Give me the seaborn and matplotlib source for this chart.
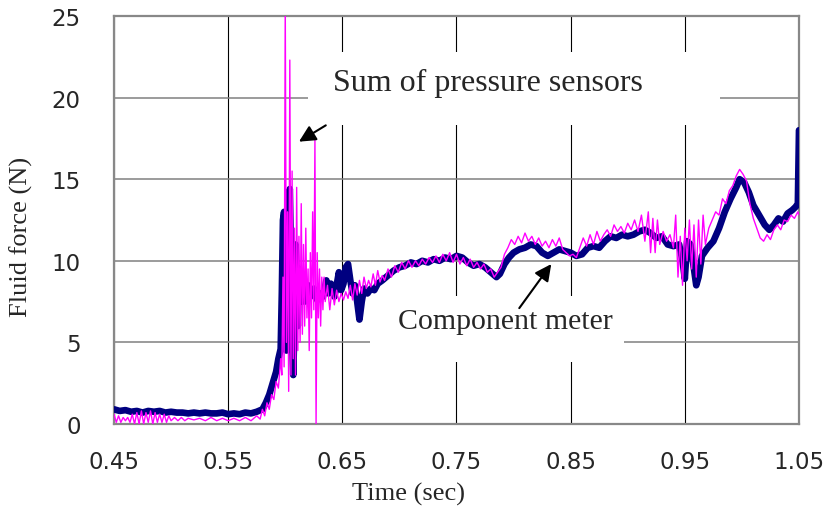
import matplotlib
matplotlib.use("Agg")
import matplotlib.pyplot as plt
import seaborn as sns
import pandas as pd
from matplotlib.patches import Rectangle

# ---- data ----
meter_t = [0.450, 0.455, 0.460, 0.465, 0.470, 0.475, 0.480, 0.485, 0.490, 0.495,
           0.500, 0.505, 0.510, 0.515, 0.520, 0.525, 0.530, 0.535, 0.540, 0.545,
           0.550, 0.555, 0.560, 0.565, 0.570, 0.575, 0.580, 0.583, 0.586, 0.589,
           0.592, 0.594, 0.596, 0.597, 0.598, 0.599, 0.600, 0.601, 0.602, 0.603,
           0.604, 0.605, 0.606, 0.607, 0.608, 0.609, 0.610, 0.611, 0.612, 0.613,
           0.615, 0.617, 0.620, 0.622, 0.625, 0.628, 0.630, 0.633, 0.636, 0.638,
           0.640, 0.643, 0.645, 0.647, 0.649, 0.651, 0.653, 0.655, 0.657, 0.659,
           0.661, 0.663, 0.665, 0.667, 0.669, 0.672, 0.675, 0.678, 0.681, 0.685,
           0.690, 0.695, 0.700, 0.705, 0.710, 0.715, 0.720, 0.725, 0.730, 0.735,
           0.740, 0.745, 0.750, 0.755, 0.760, 0.765, 0.770, 0.775, 0.780, 0.785,
           0.788, 0.792, 0.796, 0.800, 0.805, 0.810, 0.815, 0.820, 0.825, 0.830,
           0.835, 0.840, 0.845, 0.850, 0.855, 0.860, 0.865, 0.870, 0.875, 0.880,
           0.885, 0.890, 0.895, 0.900, 0.905, 0.910, 0.915, 0.920, 0.925, 0.930,
           0.935, 0.940, 0.945, 0.948, 0.950, 0.952, 0.955, 0.958, 0.960, 0.962,
           0.965, 0.970, 0.975, 0.980, 0.985, 0.990, 0.995, 0.998, 1.002, 1.006,
           1.010, 1.015, 1.020, 1.024, 1.028, 1.032, 1.036, 1.040, 1.044, 1.047,
           1.049, 1.050]
meter_f = [0.9, 0.8, 0.85, 0.75, 0.8, 0.7, 0.8, 0.75, 0.8, 0.7,
           0.75, 0.7, 0.7, 0.65, 0.7, 0.65, 0.7, 0.65, 0.65, 0.7,
           0.6, 0.65, 0.6, 0.7, 0.65, 0.75, 0.9, 1.3, 1.8, 2.5,
           3.2, 4.0, 4.6, 8.0, 12.5, 13.0, 7.0, 4.5, 9.0, 14.0,
           14.4, 10.0, 5.0, 3.0, 6.0, 11.0, 9.0, 6.0, 9.5, 7.5,
           8.8, 7.5, 8.5, 7.8, 8.3, 7.6, 8.0, 7.8, 8.8, 8.0,
           8.6, 7.8, 8.5, 9.3, 8.2, 8.6, 9.6, 9.8, 8.8, 8.0,
           8.5, 7.5, 6.4, 7.5, 8.3, 8.0, 8.3, 8.2, 8.6, 8.8,
           9.1, 9.4, 9.6, 9.7, 9.9, 9.8, 10.0, 9.9, 10.1, 10.0,
           10.2, 10.1, 10.3, 10.2, 9.9, 9.7, 9.8, 9.6, 9.3, 9.0,
           9.2, 9.8, 10.2, 10.5, 10.7, 10.8, 11.0, 10.9, 10.5, 10.3,
           10.5, 10.7, 10.6, 10.5, 10.3, 10.4, 10.8, 10.9, 10.8, 11.2,
           11.5, 11.4, 11.6, 11.5, 11.6, 11.8, 11.9, 11.7, 11.4, 11.5,
           11.0, 10.9, 11.0, 10.0, 8.9, 11.2, 11.0, 9.5, 8.5, 9.0,
           10.3, 10.8, 11.2, 12.0, 13.0, 13.8, 14.5, 15.0, 14.8, 14.2,
           13.4, 12.8, 12.2, 11.9, 12.2, 12.6, 12.4, 12.9, 13.1, 13.3,
           13.5, 18.0]

sensor_t = [0.450, 0.452, 0.454, 0.456, 0.458, 0.460, 0.462, 0.464, 0.466, 0.468,
            0.470, 0.472, 0.474, 0.476, 0.478, 0.480, 0.482, 0.484, 0.486, 0.488,
            0.490, 0.492, 0.494, 0.496, 0.498, 0.500, 0.503, 0.506, 0.509, 0.512,
            0.515, 0.520, 0.525, 0.530, 0.535, 0.540, 0.545, 0.550, 0.555, 0.560,
            0.565, 0.570, 0.575, 0.578,
            0.580, 0.582, 0.584, 0.586,
            0.588, 0.590, 0.592, 0.594, 0.596, 0.597, 0.598, 0.599, 0.600, 0.601,
            0.602, 0.603, 0.604, 0.605, 0.606, 0.607, 0.608, 0.609, 0.610, 0.611,
            0.612, 0.613, 0.614, 0.615, 0.616, 0.617, 0.618, 0.619, 0.620, 0.621,
            0.622, 0.623, 0.624, 0.625, 0.626, 0.627, 0.628, 0.629, 0.630, 0.631,
            0.632, 0.633, 0.634, 0.635, 0.637, 0.639, 0.641, 0.643, 0.645, 0.647,
            0.649, 0.651, 0.653, 0.655, 0.657, 0.659, 0.661, 0.663, 0.665, 0.667,
            0.669, 0.671, 0.673, 0.675, 0.677, 0.679, 0.681, 0.683, 0.685, 0.687,
            0.690, 0.693, 0.696, 0.699, 0.702, 0.705, 0.708, 0.711, 0.714, 0.717,
            0.720, 0.723, 0.726, 0.729, 0.732, 0.735, 0.738, 0.741, 0.744, 0.747,
            0.750, 0.753, 0.756, 0.759, 0.762, 0.765, 0.768, 0.771, 0.774, 0.777,
            0.780, 0.783, 0.786, 0.789, 0.792, 0.795, 0.798, 0.801, 0.804, 0.807,
            0.810, 0.813, 0.816, 0.819, 0.822, 0.825, 0.828, 0.831, 0.834, 0.837,
            0.840, 0.843, 0.846, 0.849, 0.852, 0.855, 0.858, 0.861, 0.864, 0.867,
            0.870, 0.873, 0.876, 0.879, 0.882, 0.885, 0.888, 0.891, 0.894, 0.897,
            0.900, 0.903, 0.906, 0.909, 0.912, 0.915, 0.918, 0.920, 0.922, 0.924,
            0.926, 0.928, 0.931, 0.934, 0.937, 0.940, 0.942, 0.944, 0.946, 0.948,
            0.950, 0.952, 0.954, 0.956, 0.958, 0.960, 0.962, 0.964, 0.966, 0.968,
            0.971, 0.974, 0.977, 0.980, 0.983, 0.986, 0.989, 0.992, 0.995, 0.998,
            1.001, 1.004, 1.007, 1.010, 1.013, 1.016, 1.019, 1.022, 1.025, 1.028,
            1.031, 1.034, 1.037, 1.040, 1.043, 1.046, 1.049, 1.050]
sensor_f = [0.6, 0.1, 0.5, 0.1, 0.4, 0.2, 0.4, 0.1, 0.6, 0.0,
            0.7, 0.0, 0.8, 0.0, 0.7, 0.1, 0.8, 0.0, 0.7, 0.1,
            0.6, 0.1, 0.6, 0.1, 0.5, 0.2, 0.4, 0.2, 0.4, 0.2,
            0.35, 0.25, 0.35, 0.2, 0.4, 0.2, 0.35, 0.2, 0.35, 0.2,
            0.4, 0.2, 0.5, 0.3,
            0.9, 0.5, 1.3, 0.9,
            1.8, 1.5, 2.6, 2.2, 4.0, 3.0, 9.0, 3.5, 26.0, 5.0,
            13.0, 2.0, 22.3, 3.0, 15.5, 4.0, 12.0, 3.0, 14.5, 4.5,
            11.5, 5.0, 13.5, 5.5, 11.0, 6.0, 12.0, 6.5, 9.5, 4.5,
            10.5, 6.5, 13.0, 7.0, 17.4, 0.0, 10.5, 6.5, 9.5, 6.0,
            9.0, 7.0, 9.0, 7.5, 8.5, 7.0, 8.3, 7.3, 8.2, 7.5,
            8.0, 7.6, 8.1, 7.7, 8.5, 7.6, 8.6, 7.9, 8.8, 8.0,
            9.0, 8.3, 8.8, 8.4, 9.2, 8.5, 9.4, 8.7, 9.1, 8.8,
            9.5, 9.0, 9.7, 9.3, 9.9, 9.5, 10.0, 9.6, 10.0, 9.7,
            10.1, 9.8, 10.2, 9.9, 10.3, 9.9, 10.4, 10.0, 10.5, 9.9,
            10.4, 9.8, 10.2, 9.7, 10.1, 9.6, 9.9, 9.5, 9.8, 9.3,
            9.5, 9.0, 9.3, 9.6, 10.4, 10.8, 11.3, 11.0, 11.5, 11.1,
            11.7, 11.2, 11.5, 11.0, 11.4, 10.9, 11.2, 10.8, 11.3, 10.9,
            11.4, 10.7, 10.5, 10.3, 10.4, 10.2, 10.8, 11.4, 10.9, 11.6,
            11.0, 11.8, 11.2, 11.6, 11.9, 11.5, 12.2, 11.8, 12.1, 11.7,
            12.3, 11.9, 12.5, 11.8, 12.8, 11.2, 13.0, 10.5, 12.6, 10.5,
            12.5, 11.0, 11.8, 11.2, 11.6, 10.8, 12.8, 9.0, 11.5, 8.5,
            12.0, 10.0, 12.5, 9.5, 12.2, 9.0, 12.5, 9.8, 12.8, 11.0,
            12.0, 12.5, 13.0, 12.8, 13.8, 13.5, 14.3, 14.6, 15.2, 15.6,
            15.3, 14.9, 13.5, 12.6, 12.0, 11.4, 11.2, 11.6, 11.3, 11.9,
            12.2, 11.9, 12.5, 12.4, 12.8, 12.6, 13.0, 12.8]

x_ticks = [0.45, 0.55, 0.65, 0.75, 0.85, 0.95, 1.05]
x_tick_labels = ["0.45", "0.55", "0.65", "0.75", "0.85", "0.95", "1.05"]
y_ticks = [0, 5, 10, 15, 20, 25]

meter_df = pd.DataFrame({"t": meter_t, "f": meter_f})
sensor_df = pd.DataFrame({"t": sensor_t, "f": sensor_f})

# ---- figure ----
sns.set_style("white")
plt.rcParams["font.family"] = ["DejaVu Sans"]

fig = plt.figure(figsize=(8.3, 5.1), dpi=100)
ax = fig.add_axes([114 / 830, 85 / 510, 685 / 830, 408 / 510])

sns.lineplot(data=meter_df, x="t", y="f", ax=ax, color="#000080", lw=4.8,
             sort=False, estimator=None, zorder=3)
sns.lineplot(data=sensor_df, x="t", y="f", ax=ax, color="#FF00FF", lw=1.0,
             sort=False, estimator=None, zorder=4)

ax.set_xlim(0.45, 1.05)
ax.set_ylim(0, 25)
ax.set_xticks(x_ticks)
ax.set_xticklabels(x_tick_labels)
ax.set_yticks(y_ticks)

# grid
ax.set_axisbelow(True)
ax.xaxis.grid(True, color="black", lw=0.8)
ax.yaxis.grid(True, color="#808080", lw=1.1)

for s in ax.spines.values():
    s.set_color("#888888")
    s.set_linewidth(1.6)

ax.tick_params(axis="y", direction="in", length=5, width=1.2, color="#808080",
               pad=24, labelsize=16.5)
ax.tick_params(axis="x", direction="in", length=0, pad=19, labelsize=16.5)

serif = ["Liberation Serif", "DejaVu Serif"]
ax.set_xlabel("Time (sec)", fontsize=19, family=serif)
ax.set_ylabel("Fluid force (N)", fontsize=19, family=serif)
ax.xaxis.set_label_coords(0.43, -0.142)
ax.yaxis.set_label_coords(-0.118, 0.46)

# white label boxes
ax.add_patch(Rectangle((0.283, 0.733), 0.601, 0.179, transform=ax.transAxes,
                       facecolor="white", edgecolor="none", zorder=1))
ax.add_patch(Rectangle((0.373, 0.152), 0.372, 0.162, transform=ax.transAxes,
                       facecolor="white", edgecolor="none", zorder=1))

ax.text(0.546, 0.838, "Sum of pressure sensors", transform=ax.transAxes,
        ha="center", va="center", fontsize=23, family=serif, zorder=5)
ax.text(0.572, 0.253, "Component meter", transform=ax.transAxes,
        ha="center", va="center", fontsize=21.5, family=serif, zorder=5)

ax.annotate("", xy=(0.612, 17.3), xytext=(0.6355, 18.3),
            arrowprops=dict(arrowstyle="-|>", color="black", lw=1.5,
                            mutation_scale=25, shrinkA=0, shrinkB=0),
            zorder=6)
ax.annotate("", xy=(0.833, 9.8), xytext=(0.805, 7.1),
            arrowprops=dict(arrowstyle="-|>", color="black", lw=1.5,
                            mutation_scale=25, shrinkA=0, shrinkB=0),
            zorder=6)

fig.savefig("out.png", dpi=100)
